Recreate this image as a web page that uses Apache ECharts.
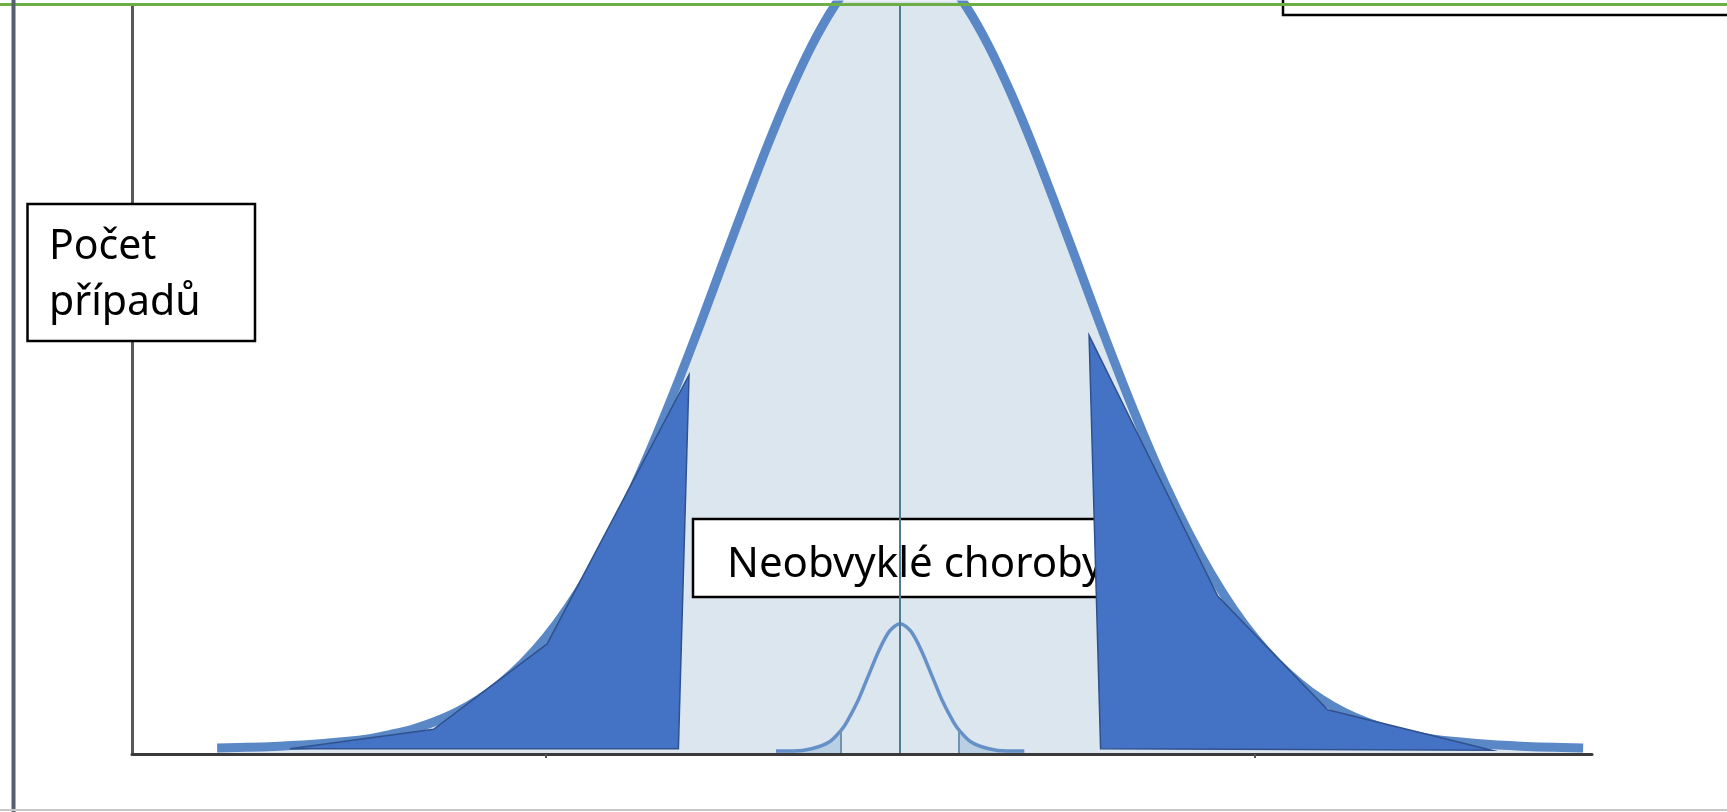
<!DOCTYPE html>
<html>
<head>
<meta charset="utf-8">
<script src="https://cdn.jsdelivr.net/npm/echarts@6/dist/echarts.min.js"></script>
<style>
  html, body { margin: 0; padding: 0; background: #fff; }
  #chart { width: 1727px; height: 812px; }
</style>
</head>
<body>
<div id="chart"></div>
<script>
// x in standard deviations from the mean, y in relative case count (0..100 = axis height)
var bigCurveX = [-3.85, -3.5, -3.25, -3.0, -2.875, -2.75, -2.625, -2.5, -2.375, -2.25, -2.125, -2.0, -1.875, -1.75, -1.625,
                 -1.5, -1.375, -1.25, -1.125, -1.0, -0.875, -0.75, -0.625, -0.5, -0.375, -0.25, -0.125, 0,
                 0.125, 0.25, 0.375, 0.5, 0.625, 0.75, 0.875, 1.0, 1.125, 1.25, 1.375, 1.5,
                 1.625, 1.75, 1.875, 2.0, 2.125, 2.25, 2.375, 2.5, 2.625, 2.75, 2.875, 3.0, 3.25, 3.5, 3.85];
var bigCurveY = [0.8, 1.05, 1.4, 2.0, 2.6, 3.3, 4.3, 5.6, 7.3, 9.5, 12.2, 15.5, 19.5, 24.2, 29.6,
                 35.7, 42.5, 49.8, 57.5, 65.5, 73.4, 81.1, 88.2, 94.5, 99.7, 103.6, 106.0, 106.8,
                 106.0, 103.6, 99.7, 94.5, 88.2, 81.1, 73.4, 65.5, 57.5, 49.8, 42.5, 35.7,
                 29.6, 24.2, 19.5, 15.5, 12.2, 9.5, 7.3, 5.6, 4.3, 3.3, 2.6, 2.0, 1.4, 1.05, 0.8];

// rare diseases - small curve in the middle
var smallCurveX = [-0.70, -0.60, -0.50, -0.40, -0.332, -0.30, -0.24, -0.18, -0.12, -0.06, 0,
                   0.06, 0.12, 0.18, 0.24, 0.30, 0.332, 0.40, 0.50, 0.60, 0.70];
var smallCurveY = [0.4, 0.4, 0.7, 1.6, 3.2, 4.3, 7.0, 10.4, 13.8, 16.4, 17.4,
                   16.4, 13.8, 10.4, 7.0, 4.3, 3.2, 1.6, 0.7, 0.4, 0.4];
var smallCut = [-0.332, 0.332];
var smallCutY = 3.2;

// dark shaded tails
var leftTailX = [-3.44, -2.63, -1.99, -1.19, -1.25];
var leftTailY = [0.7, 3.3, 14.7, 50.6, 0.7];
var rightTailX = [1.065, 1.79, 2.41, 3.335, 1.13];
var rightTailY = [55.9, 21.1, 5.9, 0.5, 0.7];

var tickValues = [-2, 2];

function pairs(xs, ys) {
  return xs.map(function (x, i) { return [x, ys[i]]; });
}

function tailSeries(xs, ys) {
  return {
    type: 'custom',
    z: 5,
    silent: true,
    data: [0],
    renderItem: function (params, api) {
      var pts = xs.map(function (x, i) { return api.coord([x, ys[i]]); });
      return {
        type: 'polygon',
        shape: { points: pts },
        style: { fill: '#4472C4', stroke: '#2F528F', lineWidth: 1.5 }
      };
    }
  };
}

var leftSmall = pairs(smallCurveX, smallCurveY).filter(function (p) { return p[0] <= smallCut[0]; });
var rightSmall = pairs(smallCurveX, smallCurveY).filter(function (p) { return p[0] >= smallCut[1]; });

var chart = echarts.init(document.getElementById('chart'));
var option = {
  animation: false,
  backgroundColor: '#fff',
  grid: { left: 132, right: 135, top: 5, bottom: 58 },
  xAxis: {
    type: 'value',
    min: -4.33,
    max: 3.9,
    z: 6,
    axisLine: { show: true, onZero: false, lineStyle: { color: '#3a3a3a', width: 3 } },
    axisTick: { show: true, customValues: tickValues, length: 4, lineStyle: { color: '#555', width: 2 } },
    axisLabel: { show: false },
    splitLine: { show: false }
  },
  yAxis: {
    type: 'value',
    min: 0,
    max: 100,
    z: 6,
    axisLine: { show: true, onZero: false, lineStyle: { color: '#595959', width: 3 } },
    axisTick: { show: false },
    axisLabel: { show: false },
    splitLine: { show: false }
  },
  series: [
    {
      type: 'line',
      z: 1,
      smooth: 0.3,
      symbol: 'none',
      silent: true,
      data: pairs(bigCurveX, bigCurveY),
      lineStyle: { color: '#5A87C6', width: 9 },
      areaStyle: { color: '#DCE6EE', opacity: 1 },
      markLine: {
        silent: true,
        symbol: 'none',
        label: { show: false },
        lineStyle: { color: '#4D7C92', width: 2, type: 'solid' },
        data: [{ xAxis: 0 }]
      }
    },
    {
      type: 'line',
      z: 2,
      smooth: 0.3,
      symbol: 'none',
      silent: true,
      data: leftSmall,
      lineStyle: { width: 0 },
      areaStyle: { color: '#B9CFE4', opacity: 1 }
    },
    {
      type: 'line',
      z: 2,
      smooth: 0.3,
      symbol: 'none',
      silent: true,
      data: rightSmall,
      lineStyle: { width: 0 },
      areaStyle: { color: '#B9CFE4', opacity: 1 }
    },
    {
      type: 'line',
      z: 2,
      smooth: 0.3,
      symbol: 'none',
      silent: true,
      data: pairs(smallCurveX, smallCurveY),
      lineStyle: { color: '#6690C8', width: 3.5 },
      markLine: {
        silent: true,
        symbol: 'none',
        label: { show: false },
        lineStyle: { color: '#6E97AE', width: 2, type: 'solid' },
        data: [
          [{ coord: [smallCut[0], 0] }, { coord: [smallCut[0], smallCutY] }],
          [{ coord: [smallCut[1], 0] }, { coord: [smallCut[1], smallCutY] }]
        ]
      }
    },
    tailSeries(leftTailX, leftTailY),
    tailSeries(rightTailX, rightTailY)
  ],
  graphic: [
    // slide frame
    { type: 'line', z: 20, shape: { x1: 0, y1: 4.5, x2: 1727, y2: 4.5 }, style: { stroke: '#6DAE47', lineWidth: 3 } },
    { type: 'line', z: 20, shape: { x1: 13.5, y1: 0, x2: 13.5, y2: 812 }, style: { stroke: '#56606E', lineWidth: 4 } },
    { type: 'line', z: 20, shape: { x1: 0, y1: 810, x2: 1727, y2: 810 }, style: { stroke: '#C8C8C8', lineWidth: 2 } },
    { type: 'rect', z: 15, shape: { x: 1283, y: -20, width: 470, height: 35 }, style: { fill: '#fff', stroke: '#000', lineWidth: 2.5 } },
    // y axis caption
    { type: 'rect', z: 10, shape: { x: 27.5, y: 204, width: 227.5, height: 137 }, style: { fill: '#fff', stroke: '#000', lineWidth: 2.5 } },
    { type: 'text', z: 11, x: 49, y: 219, style: { text: 'Počet\npřípadů', font: '41px "Noto Sans"', fill: '#000', lineHeight: 56 } },
    // rare disease caption (partly hidden by right tail)
    { type: 'rect', z: 3, shape: { x: 693, y: 519, width: 440, height: 78 }, style: { fill: '#fff', stroke: '#000', lineWidth: 2.5 } },
    { type: 'text', z: 3, x: 727, y: 537, style: { text: 'Neobvyklé choroby', font: '42px "Noto Sans"', fill: '#000', lineHeight: 56 } }
  ]
};
chart.setOption(option);
</script>
</body>
</html>
